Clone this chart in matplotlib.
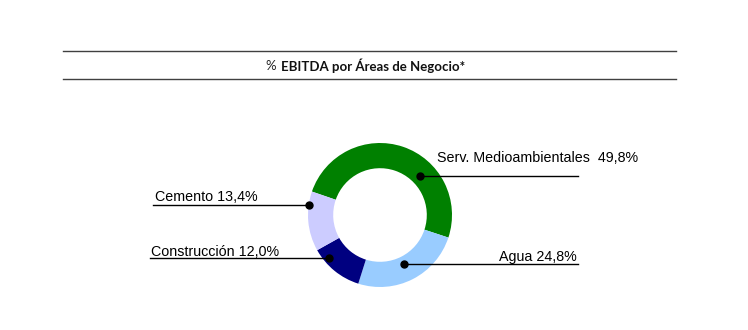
import numpy as np
import matplotlib.pyplot as plt

# datos
areas = ["Serv. Medioambientales", "Agua", "Construcción", "Cemento"]
pct = [49.8, 24.8, 12.0, 13.4]
colores = ["#008000", "#99ccff", "#000080", "#ccccff"]
titulo = "EBITDA por Áreas de Negocio*"

W, H = 748, 330
fig = plt.figure(figsize=(W / 100, H / 100), dpi=100)
ax = fig.add_axes([0, 0, 1, 1])

def py(y):
    # pixel (desde arriba) -> coordenada del eje
    return H - y

cx, cy, r = 380, py(215), 72
ax.pie(pct, colors=colores, startangle=161, counterclock=False,
       center=(cx, cy), radius=r, frame=True,
       wedgeprops=dict(width=r * 0.35, linewidth=0))
ax.set_xlim(0, W)
ax.set_ylim(0, H)
ax.set_aspect("equal")
ax.axis("off")

# titulo y lineas
ax.plot([63, 676], [py(51), py(51)], color="#404040", lw=1.0)
ax.plot([63, 676], [py(79), py(79)], color="#404040", lw=1.0)
ax.text(276, py(66), "%", ha="right", va="center", fontsize=9.5,
        family="Lato", color="#222222")
ax.text(281, py(66), titulo, ha="left", va="center", fontsize=9.5,
        fontweight="bold", family="Lato", color="#111111")

# etiquetas con lineas guia: (angulo, radio, x final linea, x texto, alineacion, alto texto)
guias = [(44, 56, 578, 437, "left", 14),
         (-64, 55, 578, 577, "right", 3),
         (-140, 67, 150, 151, "left", 2.5),
         (172, 72, 153, 155, "left", 3.5)]
textos = ["Serv. Medioambientales  49,8%", "Agua 24,8%",
          "Construcción 12,0%", "Cemento 13,4%"]
for txt, (ang, rr, xl, xt, al, dt) in zip(textos, guias):
    dx = cx + rr * np.cos(np.radians(ang))
    dy = cy + rr * np.sin(np.radians(ang))
    ax.plot([dx, xl], [dy, dy], color="black", lw=1.0)
    ax.plot(dx, dy, "o", color="black", ms=5)
    ax.text(xt, dy + dt, txt, ha=al, va="baseline", fontsize=10.3,
            family="Liberation Sans", color="black")

fig.savefig("out.png", dpi=100)
